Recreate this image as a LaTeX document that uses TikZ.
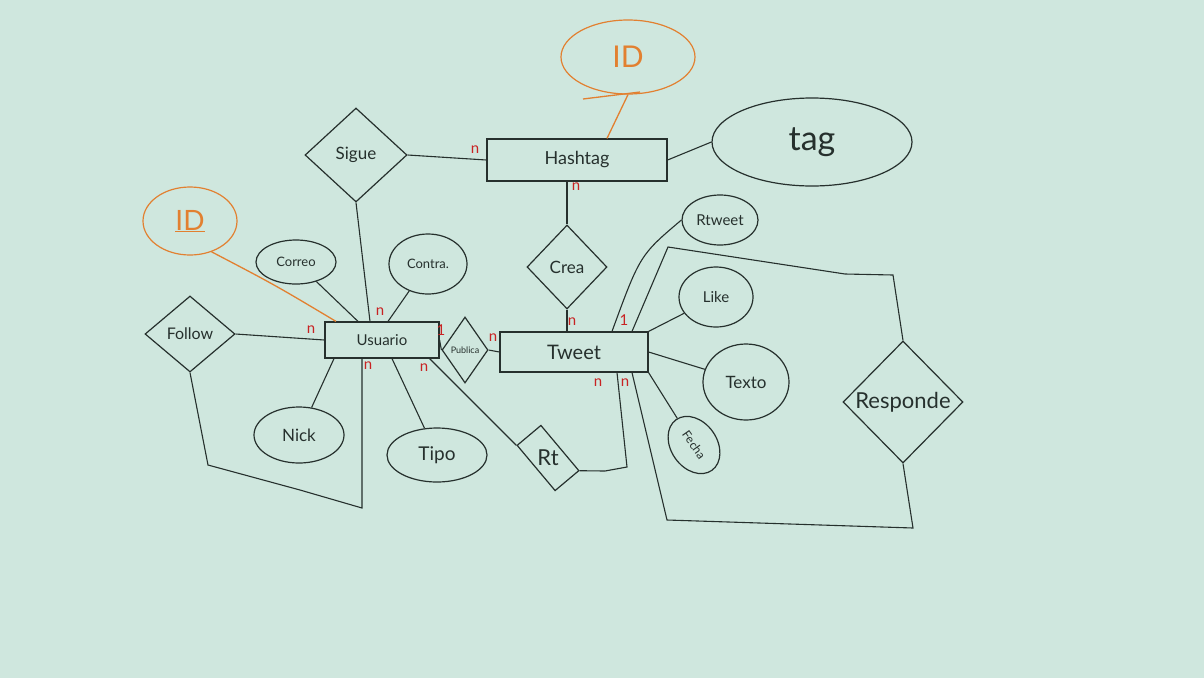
\documentclass[tikz,border=0pt]{standalone}
\usepackage{fontspec}
\setmainfont{Lato}
\usetikzlibrary{shapes.geometric}
\definecolor{bg}{RGB}{207,231,222}
\definecolor{ink}{RGB}{38,48,45}
\definecolor{orng}{RGB}{226,128,48}
\definecolor{cardred}{RGB}{200,35,35}
\newcommand{\fs}[1]{\fontsize{#1}{#1}\selectfont}
\begin{document}
\begin{tikzpicture}[x=1pt,y=-1pt,line width=1.2pt,draw=ink,text=ink,
  ent/.style={draw=ink,rectangle,inner sep=0pt},
  attr/.style={draw=ink,ellipse,inner sep=0pt},
  rel/.style={draw=ink,diamond,inner sep=0pt},
  card/.style={text=cardred,font=\fs{15}},
  conn/.style={draw=ink,line width=1.1pt},
  oconn/.style={draw=orng,line width=1.3pt}]
\fill[bg] (0,0) rectangle (1204,678);
\useasboundingbox (0,0) rectangle (1204,678);

% entities
\node[ent,minimum width=180,minimum height=42,font=\fs{18}] (hash) at (577,160) {Hashtag};
\node[ent,minimum width=114,minimum height=36,font=\fs{15}] (usu) at (382,340) {Usuario};
\node[ent,minimum width=148,minimum height=40,font=\fs{20}] (tweet) at (574,352) {Tweet};

% attributes
\node[attr,draw=orng,text=orng,minimum width=134,minimum height=74,font=\fs{30}] (idh) at (628,57) {ID};
\node[attr,minimum width=200,minimum height=88,font=\fs{34}] (tag) at (812,142) {tag};
\node[attr,draw=orng,text=orng,minimum width=94,minimum height=68,font=\fs{28}] (idu) at (190,221) {\underline{ID}};
\node[attr,minimum width=80,minimum height=44,font=\fs{13}] (cor) at (296,262) {Correo};
\node[attr,minimum width=78,minimum height=60,font=\fs{13}] (con) at (428,264) {Contra.};
\node[attr,minimum width=90,minimum height=56,font=\fs{17}] (nick) at (299,435) {Nick};
\node[attr,minimum width=100,minimum height=54,font=\fs{19}] (tipo) at (437,455) {Tipo};
\node[attr,minimum width=76,minimum height=50,font=\fs{15}] (rtw) at (720,220) {Rtweet};
\node[attr,minimum width=74,minimum height=60,font=\fs{15}] (like) at (716,297) {Like};
\node[attr,minimum width=86,minimum height=76,font=\fs{17}] (texto) at (746,382) {Texto};
\node[attr,rotate=-55,minimum width=62,minimum height=46,font=\fs{12}] (fecha) at (694,445) {Fecha};

% relationships
\node[rel,minimum width=102,minimum height=94,font=\fs{17}] (sigue) at (356,155) {Sigue};
\node[rel,minimum width=80,minimum height=84,font=\fs{17}] (crea) at (567,267) {Crea};
\node[rel,minimum width=90,minimum height=76,font=\fs{16}] (fol) at (190,334) {Follow};
\node[rel,minimum width=46,minimum height=66,font=\fs{9}] (pub) at (465,350) {Publica};
\node[rel,minimum width=120,minimum height=122,font=\fs{22}] (resp) at (903,402) {Responde};
\node[draw=ink,rectangle,rotate=-50,minimum width=59,minimum height=31,inner sep=0pt] (rt) at (548,458) {};
\node[font=\fs{22}] (rtlabel) at (rt.center) {Rt};

% connectors
\draw[oconn] (idh.south) -- ([xshift=30pt]hash.north);
\draw[oconn] (583,99) -- (640,92);
\draw[oconn] (idu.-55) .. controls (275,285) .. ([xshift=-46pt]usu.north);
\draw[conn] (hash.east) -- (tag.west);
\draw[conn] (sigue.east) -- (hash.west);
\draw[conn] (sigue.south) -- ([xshift=-12pt]usu.north);
\draw[conn] ([xshift=-10pt]hash.south) -- (crea.north);
\draw[conn] (crea.south) -- ([xshift=-7pt]tweet.north);
\draw[conn] (cor) -- ([xshift=-24pt]usu.north);
\draw[conn] (con) -- ([xshift=6pt]usu.north);
\draw[conn] (fol.east) -- (usu.west);
\coordinate (f1) at (208,465);
\coordinate (f2) at (300,490);
\coordinate (f3) at (362,508);
\draw[conn] (fol.south) -- (f1) -- (f2) -- (f3) -- ([xshift=-20pt]usu.south);
\draw[conn] (nick) -- ([xshift=-48pt]usu.south);
\draw[conn] (tipo) -- ([xshift=10pt]usu.south);
\draw[conn] ([xshift=-10pt]usu.south east) -- (rt.south west);
\coordinate (r1) at (605,471);
\coordinate (r2) at (627,467);
\draw[conn] (rt.north east) -- (r1) -- (r2) -- ([xshift=43pt]tweet.south);
\draw[conn] (usu.east) -- (pub.west);
\draw[conn] (pub.east) -- (tweet.west);
\draw[conn] ([xshift=38pt]tweet.north) .. controls (640,255) .. (rtw.west);
\coordinate (s1) at (668,247);
\coordinate (s2) at (845,274);
\coordinate (s3) at (893,275);
\draw[conn] ([xshift=58pt]tweet.north) -- (s1) -- (s2) -- (s3) -- (resp.north);
\coordinate (b1) at (913,528);
\coordinate (b2) at (667,520);
\draw[conn] (resp.south) -- (b1) -- (b2) -- ([xshift=58pt]tweet.south);
\draw[conn] (tweet.north east) -- (like);
\draw[conn] (tweet.east) -- (texto);
\draw[conn] (tweet.south east) -- (fecha);

% cardinalities
\node[card] (c1) at (475,150) {n};
\node[card] (c2) at (576,187) {n};
\node[card] (c3) at (380,312) {n};
\node[card] (c4) at (311,330) {n};
\node[card] (c5) at (368,366) {n};
\node[card] (c6) at (424,368) {n};
\node[card] (c7) at (441,330) {1};
\node[card] (c8) at (493,338) {n};
\node[card] (c9) at (572,322) {n};
\node[card] (c10) at (624,320) {1};
\node[card] (c11) at (598,383) {n};
\node[card] (c12) at (625,383) {n};
\end{tikzpicture}
\end{document}
